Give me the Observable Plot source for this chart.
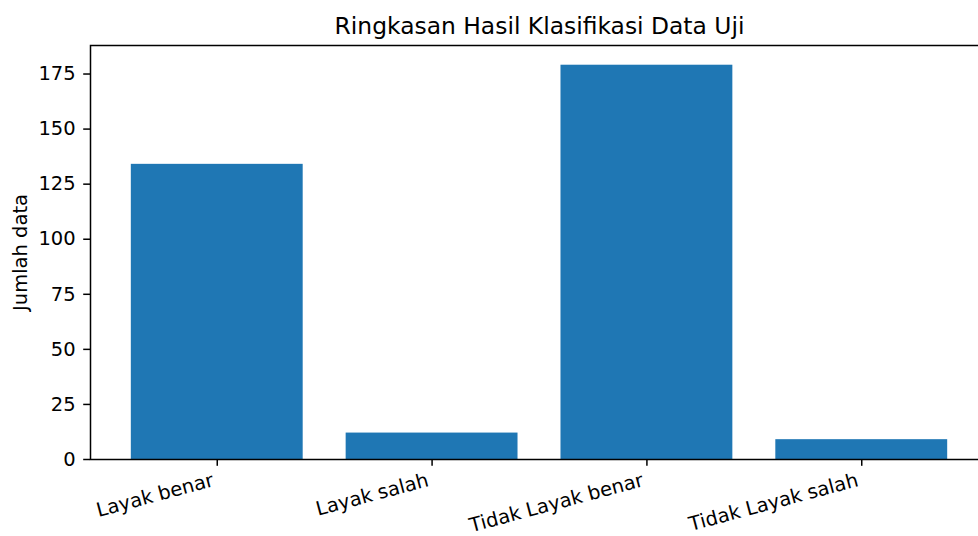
<!DOCTYPE html>
<html><head><meta charset="utf-8">
<script src="https://cdn.jsdelivr.net/npm/d3@7"></script>
<script src="https://cdn.jsdelivr.net/npm/@observablehq/plot@0.6"></script>
<style>
html,body{margin:0;padding:0;overflow:hidden;background:#fff;width:978px;height:536px}
#chart{position:absolute;left:0;top:0;width:978px;height:536px;overflow:hidden}
#chart svg{max-width:none !important;width:1000px !important;height:536px !important}
</style></head><body>
<div id="chart"></div>
<script>
const title = "Ringkasan Hasil Klasifikasi Data Uji";
const yLabel = "Jumlah data";
const categories = ["Layak benar", "Layak salah", "Tidak Layak benar", "Tidak Layak salah"];
const counts = [134, 12, 179, 9];
const yTicks = [0, 25, 50, 75, 100, 125, 150, 175];

const data = categories.map((c, i) => ({i, label: c, value: counts[i]}));

const chart = Plot.plot({
  width: 1000, height: 536,
  marginLeft: 90, marginRight: 12, marginTop: 45, marginBottom: 77,
  style: {fontFamily: "'DejaVu Sans', sans-serif", fontSize: "19.5px", color: "#000", background: "#fff", maxWidth: "none"},
  x: {domain: [-0.59, 3.59]},
  y: {domain: [0, 187.95]},
  marks: [
    Plot.rectY(data, {x1: d => d.i - 0.4, x2: d => d.i + 0.4, y1: 0, y2: "value", fill: "#1f77b4"}),
    Plot.frame({stroke: "#000", strokeWidth: 1.5}),
    Plot.axisY({ticks: yTicks, tickSize: 6.8, tickPadding: 8, strokeWidth: 1.5, label: null, fontSize: 19.5}),
    Plot.axisX({ticks: [0, 1, 2, 3], tickSize: 6.8, strokeWidth: 1.5, tickFormat: () => "", label: null}),
    Plot.text(data, {x: "i", y: 0, text: "label", rotate: -15, textAnchor: "end", lineAnchor: "top", dx: -6, dy: 13, fontSize: 19.5, fill: "#000"}),
    Plot.text([yLabel], {frameAnchor: "left", dx: -70, rotate: -90, textAnchor: "middle", lineAnchor: "middle", fontSize: 19.5, fill: "#000"}),
    Plot.text([title], {frameAnchor: "top", dy: -11.7, lineAnchor: "bottom", fontSize: 23.4, fill: "#000"})
  ]
});
document.getElementById("chart").appendChild(chart);
</script>
</body></html>
